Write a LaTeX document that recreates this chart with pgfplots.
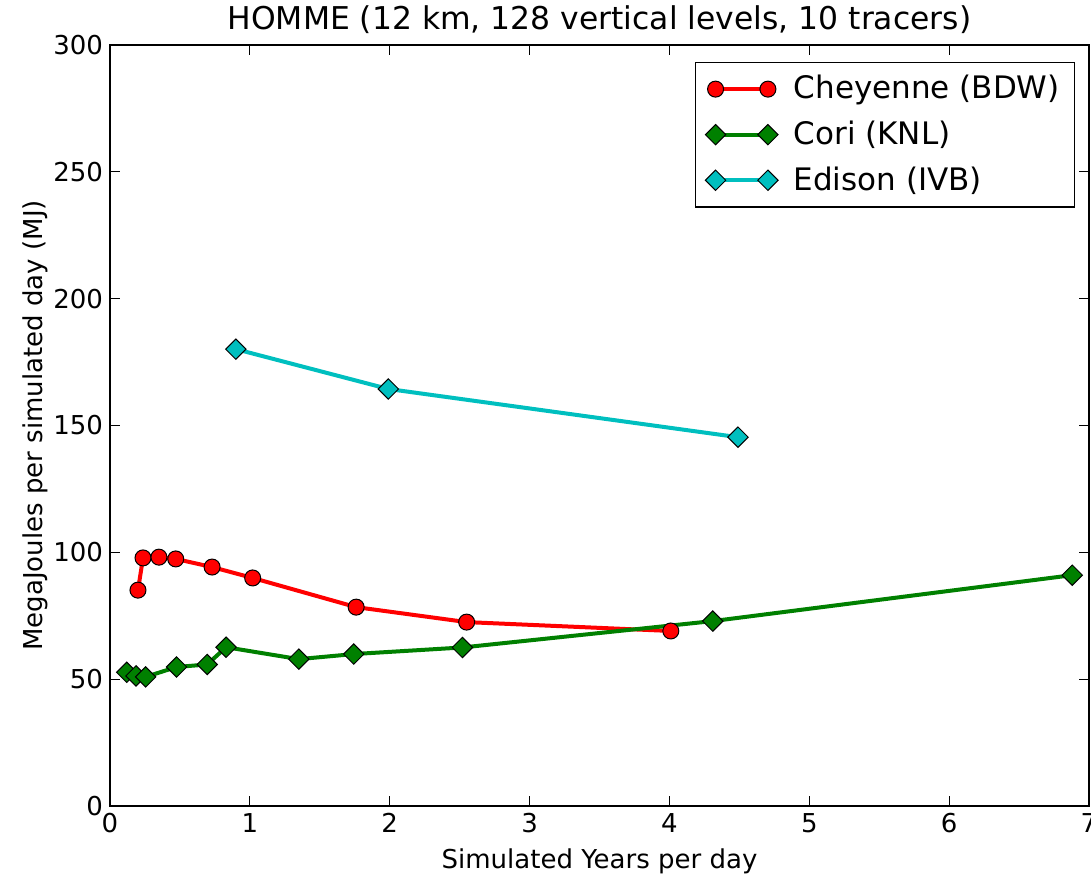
\documentclass[border=0pt]{standalone}
\usepackage{fontspec}
\setmainfont{DejaVu Sans}
\usepackage{pgfplots}
\pgfplotsset{compat=1.18}
\definecolor{mplred}{rgb}{1,0,0}
\definecolor{mplgreen}{rgb}{0,0.5,0}
\definecolor{mplcyan}{rgb}{0,0.75,0.75}
\begin{document}
\begin{tikzpicture}
\useasboundingbox (-55pt,-34pt) rectangle (490.5pt,403pt);
\begin{axis}[
  at={(0pt,0pt)}, anchor=south west,
  scale only axis, width=489.5pt, height=380.5pt,
  xmin=0, xmax=7, ymin=0, ymax=300,
  xtick={0,1,...,7}, ytick={0,50,...,300},
  tick align=inside, tick pos=both,
  major tick length=5pt,
  axis line style={line width=1pt},
  every tick/.style={black, line width=0.6pt},
  /pgf/number format/assume math mode=true,
  tick label style={font=\fontsize{13}{15}\selectfont},
  title={HOMME (12 km, 128 vertical levels, 10 tracers)},
  title style={font=\fontsize{15.7}{18}\selectfont, yshift=-4pt},
  xlabel={Simulated Years per day},
  ylabel={MegaJoules per simulated day (MJ)},
  label style={font=\fontsize{13}{15}\selectfont},
  xlabel style={yshift=-1pt},
  ylabel style={yshift=-4pt},
  legend style={at={(0.986,0.978)}, anchor=north east, font=\fontsize{15.5}{18}\selectfont,
    draw=black, line width=0.6pt, row sep=4pt, inner xsep=5pt, inner ysep=4pt,
    nodes={inner sep=2.5pt, text depth=0.2em}},
  legend cell align=left,
  legend image code/.code={
    \draw[#1, mark repeat=2, mark phase=1] plot coordinates {(0cm,0cm) (0.46cm,0cm) (0.92cm,0cm)};
    \path (1.25cm,0cm);
  },
]
\addplot[mplred, line width=2pt, mark=*, mark size=4pt,
  mark options={fill=mplred, draw=black, line width=0.5pt}]
  coordinates {(0.20,85.1) (0.236,97.8) (0.35,98.1) (0.47,97.4) (0.73,94.2) (1.02,89.9) (1.76,78.4) (2.55,72.5) (4.01,69.0)};
\addlegendentry{Cheyenne (BDW)}
\addplot[mplgreen, line width=2pt, mark=square*, mark size=3.6pt,
  mark options={fill=mplgreen, draw=black, line width=0.5pt, rotate=45}]
  coordinates {(0.12,52.7) (0.186,51.3) (0.255,50.9) (0.476,54.8) (0.695,55.8) (0.83,62.6) (1.35,57.9) (1.743,59.9) (2.52,62.5) (4.31,72.9) (6.88,91.0)};
\addlegendentry{Cori (KNL)}
\addplot[mplcyan, line width=2pt, mark=square*, mark size=3.6pt,
  mark options={fill=mplcyan, draw=black, line width=0.5pt, rotate=45}]
  coordinates {(0.90,180.1) (1.99,164.4) (4.49,145.4)};
\addlegendentry{Edison (IVB)}
\end{axis}
\end{tikzpicture}
\end{document}
